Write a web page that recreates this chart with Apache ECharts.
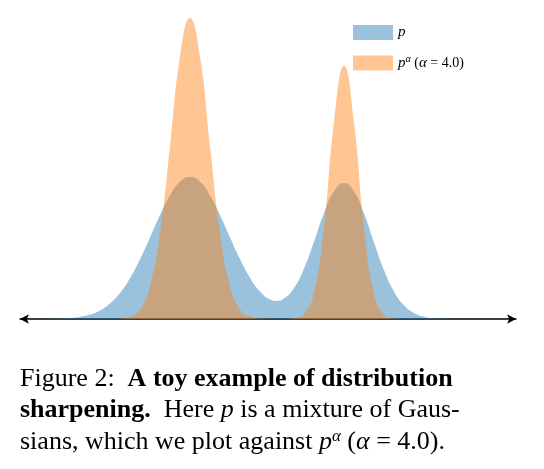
<!DOCTYPE html>
<html><head><meta charset="utf-8">
<script src="https://cdn.jsdelivr.net/npm/echarts@6/dist/echarts.min.js"></script>
<style>html,body{margin:0;padding:0;background:#fff}#c{width:544px;height:469px}</style>
</head><body><div id="c"></div>
<script>
const xs = [40,50,60,70,80,90,100,110,120,130,140,150,160,170,180,190,200,210,220,230,240,250,260,270,277,284,294,304,314,324,334,344,354,364,374,384,394,404,414,424,434,444,454,470];
const pVals = [0,0.2,0.4,1.0,2.1,4.4,8.6,15.5,26.0,40.8,59.7,81.6,103.9,123.6,137.2,142,137.2,123.6,103.9,81.6,59.9,41.3,27.5,19.6,18.1,20.4,31.0,50.6,77.3,105.7,127.7,136,127.6,105.4,76.6,49.0,27.6,13.7,6.0,2.3,0.8,0.2,0,0];
const pAlphaVals = [0,0,0,0,0,0,0,0.04,0.34,2.0,9.4,32.9,86.4,172.5,262.2,301,262.2,172.5,86.4,32.9,9.5,2.2,0.4,0.1,0.07,0.1,0.7,4.9,26.4,92.3,196.9,253.2,196.4,91.3,25.5,4.3,0.4,0,0,0,0,0,0,0];
const seriesNames = ['p','pa'];
const chart = echarts.init(document.getElementById('c'));
const font = 'Liberation Serif';
const mk = (vals)=>xs.map((x,i)=>[x,vals[i]]);
chart.setOption({
  animation:false,
  grid:{left:20,right:28,top:0,bottom:150},
  xAxis:{type:'value',min:20,max:516,axisTick:{show:false},axisLabel:{show:false},splitLine:{show:false},
    axisLine:{show:true,symbol:['arrow','arrow'],symbolSize:[7,9],lineStyle:{color:'#000',width:1.5}}},
  yAxis:{type:'value',min:0,max:319,show:false},
  legend:{orient:'vertical',left:348,top:20,itemWidth:40,itemHeight:15,itemGap:14,icon:'rect',
    data:seriesNames,
    formatter:n=>n==='p'?'{i|p}':'{i|p}{s|α} {t|(}{i|α}{t| = 4.0)}',
    textStyle:{fontFamily:font,fontSize:14,color:'#000',
      rich:{i:{fontFamily:font,fontStyle:'italic',fontSize:15},s:{fontFamily:font,fontStyle:'italic',fontSize:10,verticalAlign:'top',padding:[0,0,8,0]},t:{fontFamily:font,fontSize:14}}}},
  series:[
    {name:'p',type:'line',smooth:true,symbol:'none',data:mk(pVals),lineStyle:{width:0},
      itemStyle:{color:'rgba(31,119,180,0.45)'},areaStyle:{color:'rgba(31,119,180,0.45)',opacity:1}},
    {name:'pa',type:'line',smooth:true,symbol:'none',data:mk(pAlphaVals),lineStyle:{width:0},
      itemStyle:{color:'rgba(255,127,14,0.45)'},areaStyle:{color:'rgba(255,127,14,0.45)',opacity:1}}
  ],
  graphic:[
    {type:'text',left:20,top:366,style:{fontFamily:font,fontSize:26,fill:'#000',
      text:'Figure 2:  {b|A toy example of distribution}',rich:{b:{fontFamily:font,fontSize:26,fontWeight:'bold'}}}},
    {type:'text',left:20,top:397,style:{fontFamily:font,fontSize:26,fill:'#000',
      text:'{b|sharpening.}  Here {i|p} is a mixture of Gaus-',rich:{b:{fontFamily:font,fontSize:26,fontWeight:'bold'},i:{fontFamily:font,fontSize:26,fontStyle:'italic'}}}},
    {type:'text',left:20,top:428,style:{fontFamily:font,fontSize:26,fill:'#000',
      text:'sians, which we plot against {i|p}{s|α} ({i|α} = 4.0).',rich:{i:{fontFamily:font,fontSize:26,fontStyle:'italic'},s:{fontFamily:font,fontSize:17,fontStyle:'italic',verticalAlign:'top',padding:[0,0,12,0]}}}}
  ]
});
</script></body></html>
